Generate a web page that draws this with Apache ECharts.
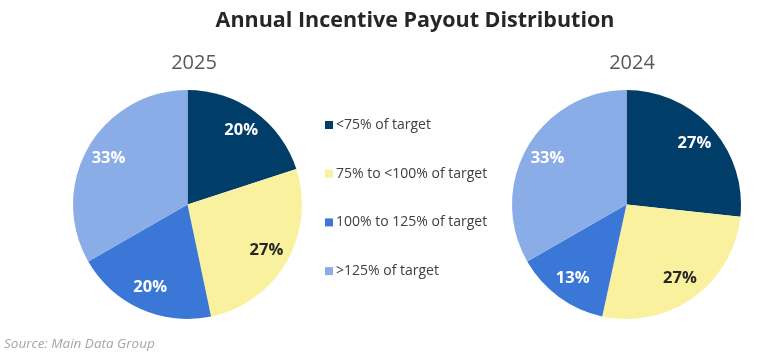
<!DOCTYPE html>
<html>
<head>
<meta charset="utf-8">
<script src="https://cdn.jsdelivr.net/npm/echarts@6/dist/echarts.min.js"></script>
<style>
html,body{margin:0;padding:0;background:#fff;}
#c{width:780px;height:358px;}
</style>
</head>
<body>
<div id="c"></div>
<script>
const categories = ['<75% of target', '75% to <100% of target', '100% to 125% of target', '>125% of target'];
const values2025 = [20, 26.7, 20, 33.3];
const values2024 = [26.7, 26.7, 13.3, 33.3];
const colors = ['#013d69', '#f9f19d', '#3b77d7', '#8badE7'];
const labelColors = ['#ffffff', '#262626', '#ffffff', '#ffffff'];
const FONT = '"Open Sans", "Noto Sans", sans-serif';

function mkData(vals) {
  return vals.map((v, i) => ({
    name: categories[i],
    value: v,
    itemStyle: { color: colors[i] },
    label: { color: labelColors[i] }
  }));
}

function pieSeries(vals, cx) {
  return [
    {
      type: 'pie',
      center: [cx, 204.5],
      radius: [0, 114.5],
      startAngle: 90,
      clockwise: true,
      animation: false,
      silent: true,
      data: mkData(vals),
      label: { show: false },
      labelLine: { show: false },
      itemStyle: { borderWidth: 0 }
    },
    {
      type: 'pie',
      center: [cx, 204.5],
      radius: [62, 114.5],
      startAngle: 90,
      clockwise: true,
      animation: false,
      silent: true,
      legendHoverLink: false,
      data: mkData(vals).map(d => Object.assign({}, d, { itemStyle: { color: 'rgba(0,0,0,0)' } })),
      label: {
        show: true,
        position: 'inside',
        formatter: p => Math.round(p.value) + '%',
        fontFamily: FONT,
        fontWeight: 'bold',
        fontSize: 16.5
      },
      labelLine: { show: false },
      itemStyle: { borderWidth: 0 }
    }
  ];
}

const chart = echarts.init(document.getElementById('c'), null, { renderer: 'canvas' });
chart.setOption({
  backgroundColor: '#ffffff',
  animation: false,
  title: [
    { text: 'Annual Incentive Payout Distribution', left: 410, top: 5, textAlign: 'center',
      textStyle: { fontFamily: FONT, fontWeight: 'bold', fontSize: 21.5, color: '#262626' } },
    { text: '2025', left: 189, top: 48, textAlign: 'center',
      textStyle: { fontFamily: FONT, fontWeight: 'normal', fontSize: 20, color: '#595959' } },
    { text: '2024', left: 627, top: 48, textAlign: 'center',
      textStyle: { fontFamily: FONT, fontWeight: 'normal', fontSize: 20, color: '#595959' } },
    { text: 'Source: Main Data Group', left: 4, top: 337, padding: 0,
      textStyle: { fontFamily: FONT, fontStyle: 'italic', fontWeight: 'normal', fontSize: 13.5, color: '#a6a6a6' } }
  ],
  legend: {
    orient: 'vertical',
    left: 320,
    top: 113,
    itemWidth: 8,
    itemHeight: 8,
    itemGap: 34.7,
    icon: 'rect',
    data: categories,
    selectedMode: false,
    textStyle: { fontFamily: FONT, fontSize: 14, color: '#404040', lineHeight: 14, padding: [0, 0, 0, -2] }
  },
  series: [].concat(pieSeries(values2025, 187.5), pieSeries(values2024, 626.5))
});
</script>
</body>
</html>
